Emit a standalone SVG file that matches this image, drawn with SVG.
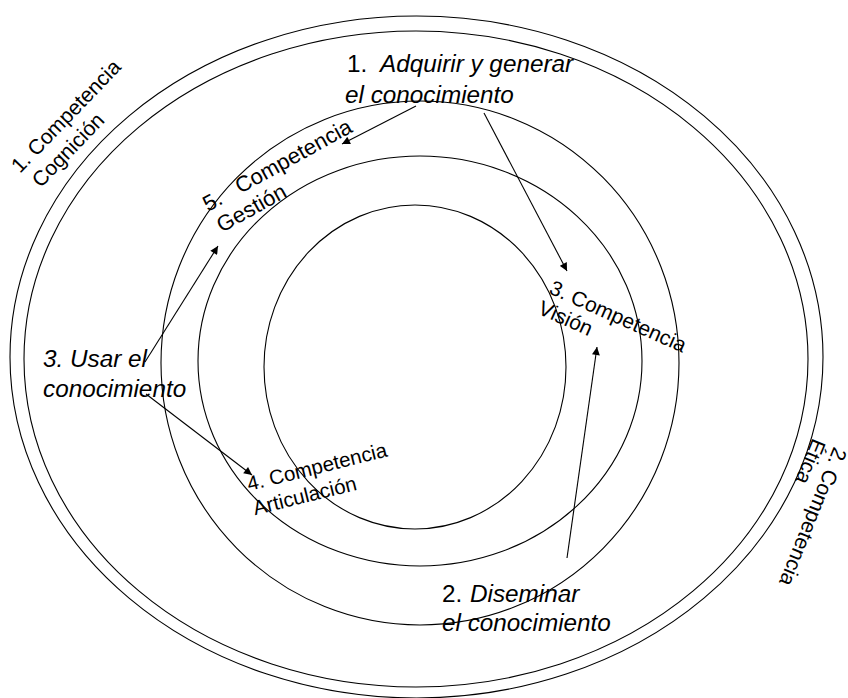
<svg xmlns="http://www.w3.org/2000/svg" width="848" height="698" viewBox="0 0 848 698">
  <style>
    .ring { fill: none; stroke: #000; stroke-width: 1.1; }
    .conn { fill: none; stroke: #000; stroke-width: 1.1; }
    .lbl { font-family: "Liberation Sans", Arial, sans-serif; font-size: 21px; fill: #000; }
    .phase { font-family: "Liberation Sans", Arial, sans-serif; font-size: 24.3px; font-style: italic; fill: #000; }
    .up { font-style: normal; }
  </style>
  <defs>
    <marker id="arrow" viewBox="0 0 10 10" refX="10" refY="5" markerWidth="10" markerHeight="8" markerUnits="userSpaceOnUse" orient="auto">
      <path d="M0,0 L10,5 L0,10 Z" fill="#000"/>
    </marker>
  </defs>

  <rect width="848" height="698" fill="#fff"/>

  <!-- concentric competence rings -->
  <g id="rings">
    <ellipse class="ring" cx="416.5" cy="357" rx="406.5" ry="341"/>
    <ellipse class="ring" cx="416" cy="359" rx="392" ry="328"/>
    <ellipse class="ring" cx="420" cy="363" rx="259" ry="262"/>
    <ellipse class="ring" cx="420" cy="361" rx="222" ry="205"/>
    <ellipse class="ring" cx="415" cy="367" rx="151" ry="162"/>
  </g>

  <!-- competence labels -->
  <g id="comp-cognicion">
    <text class="lbl" transform="translate(20,174) rotate(-46)">
      <tspan x="0" y="0">1. Competencia</tspan>
      <tspan x="4" dy="25">Cognición</tspan>
    </text>
  </g>
  <g id="comp-etica">
    <text class="lbl" transform="translate(834,446) rotate(112)">
      <tspan x="0" y="0">2. Competencia</tspan>
      <tspan x="0" dy="23">Ética</tspan>
    </text>
  </g>
  <g id="comp-vision">
    <text class="lbl" transform="translate(548,293) rotate(24)">
      <tspan x="0" y="0">3. Competencia</tspan>
      <tspan x="-2" dy="23">Visión</tspan>
    </text>
  </g>
  <g id="comp-articulacion">
    <text class="lbl" style="font-size:20.5px" transform="translate(249,491) rotate(-14)">
      <tspan x="0" y="0">4. Competencia</tspan>
      <tspan x="0" dy="25">Articulación</tspan>
    </text>
  </g>
  <g id="comp-gestion">
    <text class="lbl" style="font-size:22px" transform="translate(208,212) rotate(-29)">
      <tspan x="0" y="0">5.</tspan><tspan x="37" y="0">Competencia</tspan>
      <tspan x="2" dy="25">Gestión</tspan>
    </text>
  </g>

  <!-- knowledge phases -->
  <g id="phase-adquirir">
    <text class="phase">
      <tspan x="347" y="72" class="up">1.</tspan><tspan x="380" y="72">Adquirir y generar</tspan>
      <tspan x="345" y="103">el conocimiento</tspan>
    </text>
  </g>
  <g id="phase-diseminar">
    <text class="phase">
      <tspan x="442" y="602" class="up">2.</tspan><tspan x="470" y="602">Diseminar</tspan>
      <tspan x="442" y="631">el conocimiento</tspan>
    </text>
  </g>
  <g id="phase-usar">
    <text class="phase">
      <tspan x="43" y="367">3. Usar el</tspan>
      <tspan x="43" y="397">conocimiento</tspan>
    </text>
  </g>

  <!-- connectors -->
  <g id="connectors">
    <line class="conn" x1="416" y1="106" x2="342" y2="144" marker-end="url(#arrow)"/>
    <line class="conn" x1="484" y1="113" x2="567" y2="271" marker-end="url(#arrow)"/>
    <line class="conn" x1="567" y1="558" x2="597" y2="347" marker-end="url(#arrow)"/>
    <line class="conn" x1="145" y1="362" x2="218" y2="246" marker-end="url(#arrow)"/>
    <line class="conn" x1="146" y1="394" x2="252" y2="475" marker-end="url(#arrow)"/>
  </g>
</svg>
